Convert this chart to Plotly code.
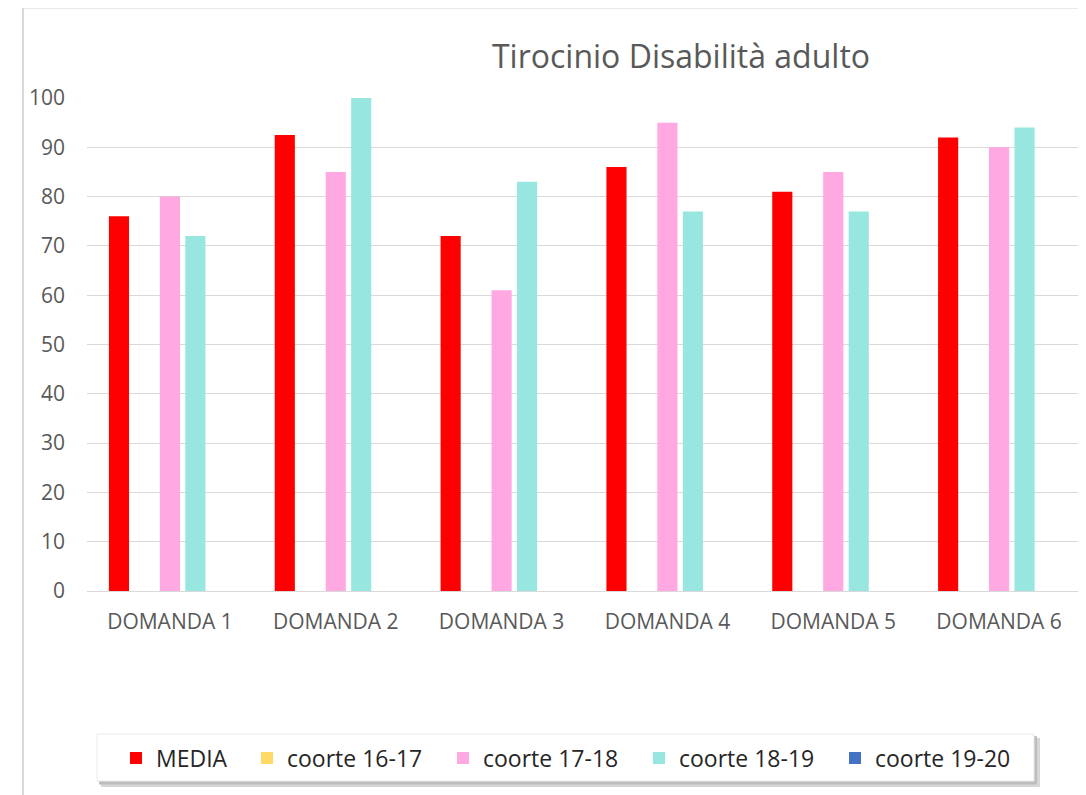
import plotly.graph_objects as go

categories = ["DOMANDA 1", "DOMANDA 2", "DOMANDA 3", "DOMANDA 4", "DOMANDA 5", "DOMANDA 6"]
series_names = ["MEDIA", "coorte 16-17", "coorte 17-18", "coorte 18-19", "coorte 19-20"]
media = [76, 92.5, 72, 86, 81, 92]
coorte_16_17 = [None, None, None, None, None, None]
coorte_17_18 = [80, 85, 61, 95, 85, 90]
coorte_18_19 = [72, 100, 83, 77, 77, 94]
coorte_19_20 = [None, None, None, None, None, None]
colors = ["#ff0000", "#ffd966", "#ffa8e2", "#97e6df", "#4472c4"]
y_ticks = [0, 10, 20, 30, 40, 50, 60, 70, 80, 90, 100]

OFF = 8  # page body margin
W, H = 1086 - OFF, 795 - OFF
# plot area in page pixels: x 87..1082, y 98..591
L = 87 - OFF
R = W - (1082 - OFF)
T = 98 - OFF
B = H - (591 - OFF)
FONT = "Open Sans, Lato, sans-serif"
GREY = "#595959"
PW, PH = W - L - R, H - T - B


def px_x(x):
    return (x - OFF - L) / PW


def px_y(y):
    return (H - B - (y - OFF)) / PH


fig = go.Figure()
all_vals = [media, coorte_16_17, coorte_17_18, coorte_18_19, coorte_19_20]
for i, (name, vals, col) in enumerate(zip(series_names, all_vals, colors)):
    fig.add_trace(go.Bar(
        x=categories, y=vals, name=name, showlegend=True,
        marker=dict(color=col, line=dict(width=0)),
        legend="legend" if i == 0 else "legend2",
    ))

shapes = []
# chart border with subtle top shadow
for k, c in enumerate(["#f4f4f4", "#ececec", "#e3e3e3", "#dadada"]):
    shapes.append(dict(type="line", xref="paper", yref="paper", x0=px_x(20), x1=px_x(1090),
                       y0=px_y(3 + k), y1=px_y(3 + k), line=dict(color=c, width=1), layer="below"))
shapes.append(dict(type="line", xref="paper", yref="paper", x0=px_x(22), x1=px_x(1090),
                   y0=px_y(7.5), y1=px_y(7.5), line=dict(color="#d4d4d4", width=2), layer="below"))
shapes.append(dict(type="line", xref="paper", yref="paper", x0=px_x(23), x1=px_x(23),
                   y0=px_y(7), y1=px_y(800), line=dict(color="#d9d9d9", width=2), layer="below"))
# legend box shadow + box
shapes.append(dict(type="rect", xref="paper", yref="paper", x0=px_x(101), x1=px_x(1040),
                   y0=px_y(738), y1=px_y(787), fillcolor="#d6d6d6", line=dict(width=0), layer="below"))
shapes.append(dict(type="rect", xref="paper", yref="paper", x0=px_x(99), x1=px_x(1037),
                   y0=px_y(736), y1=px_y(784.5), fillcolor="#bdbdbd", line=dict(width=0), layer="below"))
shapes.append(dict(type="rect", xref="paper", yref="paper", x0=px_x(97), x1=px_x(1034),
                   y0=px_y(734), y1=px_y(781), fillcolor="white", line=dict(color="#ebebeb", width=1), layer="below"))

legend_font = dict(size=23, color="#262626", family=FONT)
fig.update_layout(
    width=W, height=H,
    margin=dict(l=L, r=R, t=T, b=B, pad=0),
    paper_bgcolor="white", plot_bgcolor="rgba(0,0,0,0)",
    barmode="group", bargap=0.232, bargroupgap=0.21,
    font=dict(family=FONT, color=GREY),
    showlegend=True,
    title=dict(text="Tirocinio Disabilità adulto", x=(681 - OFF) / W, xanchor="center",
               y=1 - (57 - OFF) / H, yanchor="middle", font=dict(size=32, color=GREY, family=FONT)),
    xaxis=dict(showgrid=False, showline=True, linecolor="#d9d9d9", linewidth=1, ticks="",
               tickfont=dict(size=21, color=GREY, family=FONT), ticklabelstandoff=12),
    yaxis=dict(range=[0, 100], tickvals=y_ticks, showgrid=True, gridcolor="#d9d9d9", gridwidth=1,
               zeroline=False, showline=False, ticks="",
               tickfont=dict(size=21, color=GREY, family=FONT), ticklabelstandoff=21),
    legend=dict(orientation="h", x=px_x(116), xanchor="left", y=px_y(758), yanchor="middle",
                bgcolor="rgba(0,0,0,0)", borderwidth=0, font=legend_font, itemwidth=30),
    legend2=dict(orientation="h", x=px_x(247), xanchor="left", y=px_y(758), yanchor="middle",
                 bgcolor="rgba(0,0,0,0)", borderwidth=0, font=legend_font, itemwidth=30,
                 entrywidth=151, entrywidthmode="pixels"),
    shapes=shapes,
)

fig.write_html("out.html")
